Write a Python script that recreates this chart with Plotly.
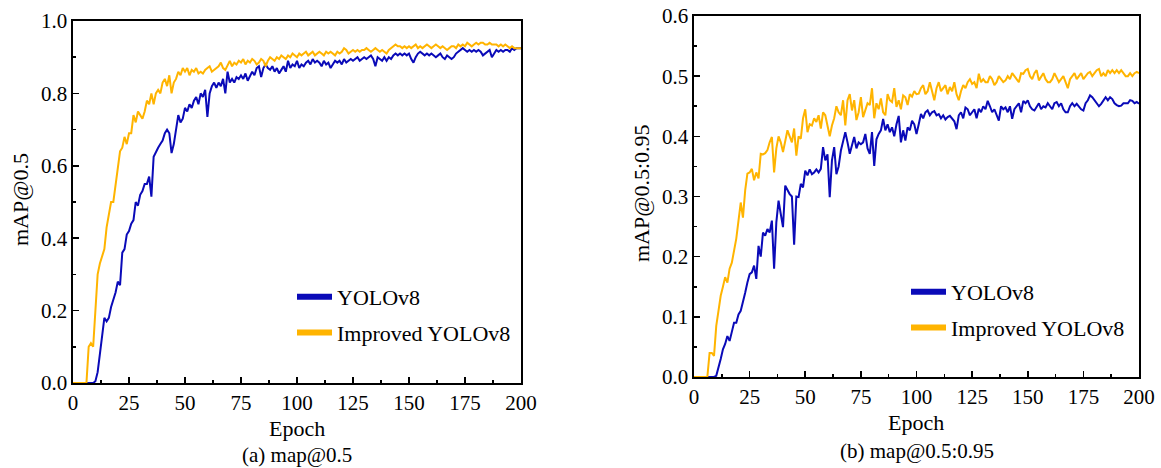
import plotly.graph_objects as go

epochs = list(range(0, 201))

map50_improved = [
    0, 0, 0, 0, 0, 0, 0, 0.10, 0.11, 0.10,
    0.20, 0.30, 0.33, 0.35, 0.37, 0.43, 0.47, 0.50, 0.50, 0.55,
    0.60, 0.64, 0.65, 0.68, 0.66, 0.69, 0.69, 0.74, 0.72, 0.75,
    0.74, 0.73, 0.75, 0.78, 0.77, 0.80, 0.77, 0.80, 0.81, 0.80,
    0.83, 0.84, 0.82, 0.85, 0.80, 0.83, 0.84, 0.86, 0.85, 0.87,
    0.86, 0.87, 0.85, 0.865, 0.86, 0.87, 0.855, 0.86, 0.855, 0.865,
    0.87, 0.875, 0.86, 0.865, 0.87, 0.875, 0.885, 0.87, 0.865, 0.88,
    0.89, 0.875, 0.885, 0.88, 0.89, 0.885, 0.895, 0.88, 0.89, 0.885,
    0.895, 0.89, 0.88, 0.885, 0.895, 0.89, 0.875, 0.89, 0.90, 0.895,
    0.89, 0.90, 0.895, 0.905, 0.90, 0.895, 0.905, 0.90, 0.91, 0.905,
    0.90, 0.91, 0.905, 0.91, 0.915, 0.905, 0.91, 0.915, 0.905, 0.91,
    0.915, 0.91, 0.905, 0.915, 0.91, 0.915, 0.91, 0.905, 0.915, 0.91,
    0.915, 0.925, 0.92, 0.91, 0.915, 0.92, 0.915, 0.92, 0.915, 0.92,
    0.92, 0.925, 0.92, 0.915, 0.92, 0.925, 0.92, 0.915, 0.92, 0.915,
    0.91, 0.92, 0.925, 0.93, 0.935, 0.93, 0.93, 0.925, 0.93, 0.925,
    0.93, 0.925, 0.93, 0.935, 0.925, 0.93, 0.925, 0.93, 0.935, 0.93,
    0.925, 0.93, 0.935, 0.93, 0.925, 0.93, 0.925, 0.92, 0.925, 0.93,
    0.93, 0.925, 0.935, 0.93, 0.935, 0.93, 0.94, 0.935, 0.93, 0.935,
    0.94, 0.935, 0.94, 0.94, 0.935, 0.935, 0.94, 0.935, 0.935, 0.935,
    0.93, 0.935, 0.93, 0.935, 0.93, 0.925, 0.93, 0.925, 0.925, 0.925,
    0.925,
]

map50_yolov8 = [
    0, 0, 0, 0, 0, 0, 0, 0, 0, 0,
    0.005, 0.03, 0.08, 0.13, 0.18, 0.17, 0.18, 0.21, 0.23, 0.25,
    0.28, 0.27, 0.36, 0.37, 0.41, 0.42, 0.44, 0.45, 0.50, 0.49,
    0.52, 0.53, 0.55, 0.55, 0.57, 0.515, 0.625, 0.64, 0.65, 0.66,
    0.67, 0.69, 0.70, 0.69, 0.635, 0.66, 0.70, 0.74, 0.72, 0.73,
    0.76, 0.75, 0.77, 0.76, 0.78, 0.79, 0.77, 0.80, 0.79, 0.81,
    0.735, 0.80, 0.82, 0.83, 0.815, 0.83, 0.82, 0.84, 0.80, 0.86,
    0.83, 0.84, 0.83, 0.845, 0.84, 0.85, 0.84, 0.855, 0.835, 0.85,
    0.86, 0.85, 0.87, 0.875, 0.845, 0.87, 0.88, 0.87, 0.865, 0.875,
    0.86, 0.87, 0.855, 0.865, 0.875, 0.86, 0.89, 0.87, 0.88, 0.875,
    0.89, 0.87, 0.88, 0.875, 0.885, 0.89, 0.88, 0.895, 0.885, 0.89,
    0.885, 0.875, 0.89, 0.88, 0.885, 0.87, 0.88, 0.89, 0.885, 0.89,
    0.88, 0.895, 0.885, 0.89, 0.895, 0.89, 0.895, 0.90, 0.89, 0.895,
    0.90, 0.895, 0.90, 0.905, 0.895, 0.875, 0.90, 0.895, 0.89, 0.90,
    0.89, 0.90, 0.895, 0.905, 0.91, 0.905, 0.91, 0.905, 0.91, 0.905,
    0.91, 0.895, 0.885, 0.90, 0.91, 0.915, 0.91, 0.905, 0.91, 0.905,
    0.91, 0.905, 0.90, 0.905, 0.91, 0.90, 0.895, 0.905, 0.90, 0.895,
    0.90, 0.91, 0.915, 0.92, 0.925, 0.92, 0.915, 0.92, 0.915, 0.92,
    0.915, 0.92, 0.915, 0.905, 0.91, 0.915, 0.92, 0.90, 0.91, 0.92,
    0.915, 0.92, 0.915, 0.92, 0.92, 0.915, 0.925, 0.92, 0.925, 0.925,
    0.925,
]

map5095_improved = [
    0, 0, 0, 0, 0, 0, 0, 0.04, 0.04, 0.035,
    0.085, 0.11, 0.135, 0.15, 0.166, 0.157, 0.18, 0.19, 0.21, 0.23,
    0.26, 0.29, 0.265, 0.31, 0.338, 0.34, 0.346, 0.327, 0.34, 0.33,
    0.371, 0.37, 0.372, 0.377, 0.39, 0.399, 0.34, 0.38, 0.40, 0.39,
    0.374, 0.395, 0.41, 0.40, 0.39, 0.413, 0.368, 0.40, 0.396, 0.43,
    0.445, 0.407, 0.42, 0.418, 0.43, 0.424, 0.435, 0.413, 0.44, 0.435,
    0.42, 0.40, 0.418, 0.43, 0.45, 0.44, 0.435, 0.46, 0.418, 0.46,
    0.47, 0.443, 0.46, 0.427, 0.44, 0.465, 0.432, 0.445, 0.455, 0.452,
    0.48, 0.43, 0.455, 0.445, 0.463, 0.44, 0.435, 0.47, 0.46, 0.457,
    0.48, 0.449, 0.46, 0.445, 0.468, 0.465, 0.452, 0.47, 0.466, 0.475,
    0.47, 0.471, 0.48, 0.485, 0.47, 0.475, 0.49, 0.475, 0.46, 0.48,
    0.49, 0.475, 0.48, 0.485, 0.47, 0.482, 0.475, 0.49, 0.47, 0.46,
    0.475, 0.485, 0.48, 0.49, 0.495, 0.487, 0.49, 0.48, 0.504, 0.49,
    0.495, 0.49, 0.49, 0.50, 0.495, 0.485, 0.49, 0.50, 0.495, 0.49,
    0.493, 0.50, 0.495, 0.505, 0.50, 0.495, 0.49, 0.505, 0.504, 0.51,
    0.512, 0.50, 0.495, 0.505, 0.51, 0.493, 0.50, 0.505, 0.495, 0.49,
    0.49, 0.495, 0.505, 0.498, 0.49, 0.495, 0.50, 0.49, 0.48, 0.495,
    0.50, 0.505, 0.495, 0.50, 0.505, 0.495, 0.50, 0.505, 0.507, 0.50,
    0.505, 0.51, 0.512, 0.50, 0.505, 0.50, 0.51, 0.505, 0.51, 0.505,
    0.51, 0.505, 0.51, 0.505, 0.50, 0.50, 0.505, 0.50, 0.505, 0.507,
    0.505,
]

map5095_yolov8 = [
    0, 0, 0, 0, 0, 0, 0, 0, 0, 0,
    0.002, 0.015, 0.03, 0.046, 0.055, 0.068, 0.06, 0.075, 0.09, 0.09,
    0.104, 0.11, 0.124, 0.14, 0.157, 0.171, 0.174, 0.185, 0.163, 0.218,
    0.20, 0.24, 0.235, 0.246, 0.24, 0.26, 0.18, 0.257, 0.293, 0.27,
    0.249, 0.318, 0.31, 0.304, 0.30, 0.22, 0.30, 0.299, 0.321, 0.315,
    0.343, 0.335, 0.345, 0.337, 0.34, 0.345, 0.34, 0.346, 0.382, 0.36,
    0.37, 0.299, 0.36, 0.382, 0.337, 0.35, 0.376, 0.39, 0.407, 0.39,
    0.371, 0.385, 0.399, 0.38, 0.39, 0.387, 0.39, 0.404, 0.38, 0.371,
    0.407, 0.351, 0.395, 0.404, 0.41, 0.429, 0.41, 0.42, 0.407, 0.415,
    0.40, 0.42, 0.434, 0.39, 0.41, 0.393, 0.415, 0.41, 0.426, 0.42,
    0.404, 0.42, 0.437, 0.43, 0.44, 0.443, 0.435, 0.44, 0.442, 0.435,
    0.437, 0.43, 0.435, 0.428, 0.432, 0.434, 0.43, 0.425, 0.412, 0.435,
    0.44, 0.43, 0.448, 0.445, 0.435, 0.44, 0.445, 0.43, 0.446, 0.44,
    0.45, 0.445, 0.459, 0.45, 0.44, 0.445, 0.435, 0.426, 0.45, 0.445,
    0.448, 0.44, 0.45, 0.429, 0.445, 0.45, 0.455, 0.44, 0.459, 0.455,
    0.46, 0.45, 0.445, 0.443, 0.45, 0.455, 0.445, 0.45, 0.448, 0.455,
    0.45, 0.445, 0.455, 0.457, 0.45, 0.455, 0.445, 0.44, 0.44, 0.45,
    0.455, 0.45, 0.454, 0.45, 0.445, 0.443, 0.455, 0.46, 0.468, 0.465,
    0.46, 0.455, 0.45, 0.454, 0.46, 0.465, 0.46, 0.465, 0.462, 0.455,
    0.452, 0.45, 0.451, 0.455, 0.455, 0.455, 0.46, 0.459, 0.455, 0.457,
    0.454,
]

series_names = ["YOLOv8", "Improved YOLOv8"]
BLUE = "#0A0AB8"
ORANGE = "#FFB400"
FONT = "Liberation Serif, Times New Roman, serif"
W, H = 1161, 468

fig = go.Figure()

# data traces
fig.add_trace(go.Scatter(x=epochs, y=map50_yolov8, mode="lines", line=dict(color=BLUE, width=2),
                         xaxis="x", yaxis="y", showlegend=False))
fig.add_trace(go.Scatter(x=epochs, y=map50_improved, mode="lines", line=dict(color=ORANGE, width=2),
                         xaxis="x", yaxis="y", showlegend=False))
fig.add_trace(go.Scatter(x=epochs, y=map5095_yolov8, mode="lines", line=dict(color=BLUE, width=2),
                         xaxis="x2", yaxis="y2", showlegend=False))
fig.add_trace(go.Scatter(x=epochs, y=map5095_improved, mode="lines", line=dict(color=ORANGE, width=2),
                         xaxis="x2", yaxis="y2", showlegend=False))

# legend entries (thick samples)
for lg, xa, ya in [("legend", "x", "y"), ("legend2", "x2", "y2")]:
    for name, col in zip(series_names, [BLUE, ORANGE]):
        fig.add_trace(go.Scatter(x=[None], y=[None], mode="lines", name=name,
                                 line=dict(color=col, width=6), xaxis=xa, yaxis=ya,
                                 legend=lg, legendgroup=lg + name))

def px_x(p):
    return p / W

def px_y(p):
    return 1 - p / H

axis_common = dict(
    showline=True, linecolor="black", linewidth=1.6, mirror=True,
    ticks="inside", ticklen=6, tickwidth=1.6, tickcolor="black",
    showgrid=False, zeroline=False, automargin=False,
    ticklabeloverflow="allow",
    tickfont=dict(family=FONT, size=21, color="black"),
)

fig.update_layout(
    width=W, height=H,
    margin=dict(l=0, r=0, t=0, b=0, autoexpand=False),
    paper_bgcolor="white", plot_bgcolor="white",
    font=dict(family=FONT, color="black"),
    xaxis=dict(domain=[px_x(73), px_x(521)], range=[0, 200], dtick=25, anchor="y",
               minor=dict(ticks="inside", ticklen=3, dtick=12.5, tickcolor="black", tickwidth=1.6),
               **axis_common),
    yaxis=dict(domain=[px_y(383), px_y(21)], range=[0, 1.0], dtick=0.2, tickformat=".1f", anchor="x",
               minor=dict(ticks="inside", ticklen=3, dtick=0.1, tickcolor="black", tickwidth=1.6),
               **axis_common),
    xaxis2=dict(domain=[px_x(694), px_x(1139)], range=[0, 200], dtick=25, anchor="y2",
                minor=dict(ticks="inside", ticklen=3, dtick=12.5, tickcolor="black", tickwidth=1.6),
                **axis_common),
    yaxis2=dict(domain=[px_y(377), px_y(16)], range=[0, 0.6], dtick=0.1, tickformat=".1f", anchor="x2",
                minor=dict(ticks="inside", ticklen=3, dtick=0.05, tickcolor="black", tickwidth=1.6),
                **axis_common),
    legend=dict(x=px_x(292), y=px_y(276), xanchor="left", yanchor="top",
                bgcolor="rgba(0,0,0,0)", font=dict(family=FONT, size=22, color="black"),
                tracegroupgap=4, itemwidth=35),
    legend2=dict(x=px_x(906), y=px_y(271), xanchor="left", yanchor="top",
                 bgcolor="rgba(0,0,0,0)", font=dict(family=FONT, size=22, color="black"),
                 tracegroupgap=4, itemwidth=35),
)

annots = [
    dict(text="Epoch", x=px_x(297), y=px_y(428), size=22),
    dict(text="(a) map@0.5", x=px_x(297), y=px_y(455), size=21),
    dict(text="Epoch", x=px_x(916), y=px_y(422), size=22),
    dict(text="(b) map@0.5:0.95", x=px_x(917), y=px_y(451), size=21),
    dict(text="mAP@0.5", x=px_x(20), y=px_y(200), size=22, textangle=-90),
    dict(text="mAP@0.5:0.95", x=px_x(641), y=px_y(193), size=22, textangle=-90),
]
for a in annots:
    sz = a.pop("size")
    fig.add_annotation(xref="paper", yref="paper", showarrow=False,
                       xanchor="center", yanchor="middle",
                       font=dict(family=FONT, size=sz, color="black"), **a)

fig.write_html("out.html",
               config={"displayModeBar": False, "staticPlot": True},
               post_script="document.body.style.margin='0';document.body.style.overflow='hidden';")
